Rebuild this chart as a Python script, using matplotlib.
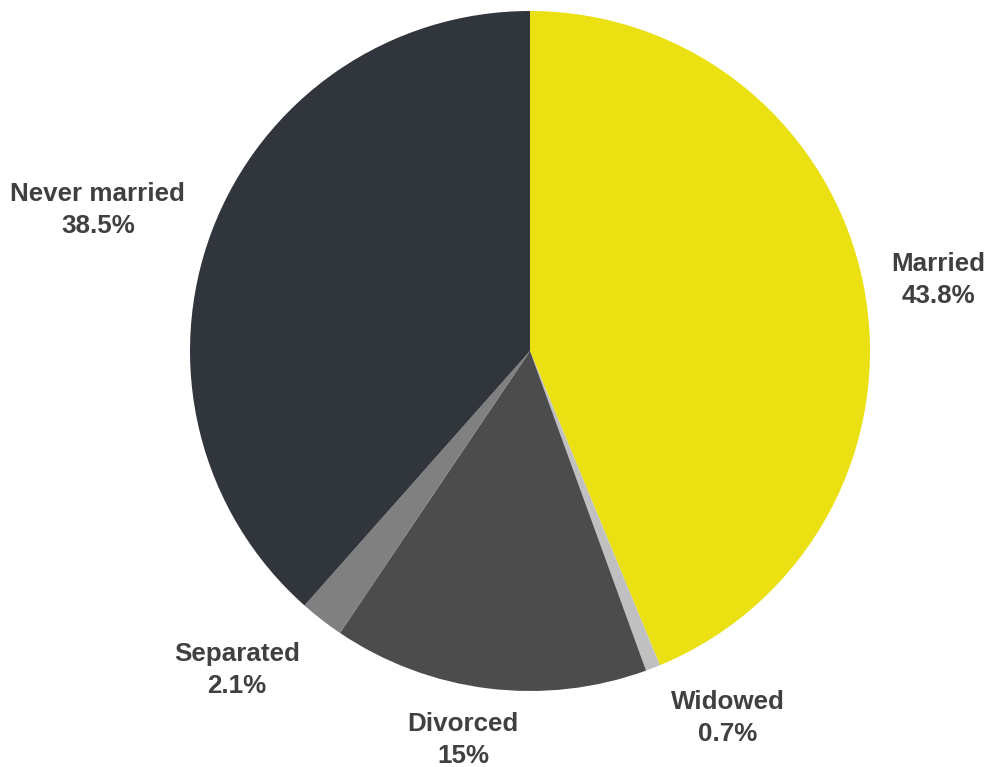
import matplotlib
matplotlib.use("Agg")
import matplotlib.pyplot as plt

categories = ["Married", "Widowed", "Divorced", "Separated", "Never married"]
values = [43.8, 0.7, 15, 2.1, 38.5]
value_labels = ["43.8%", "0.7%", "15%", "2.1%", "38.5%"]
colors = ["#EBE012", "#C0C0C0", "#4C4C4C", "#808080", "#31353C"]

# label positions (layout, in pie-radius units)
label_pos = [(1.20, 0.209), (0.582, -1.079), (-0.197, -1.144), (-0.862, -0.938), (-1.271, 0.415)]

W, H = 990, 767
cx, cy, R = 530, 351, 340

fig = plt.figure(figsize=(W / 100, H / 100), dpi=100)
ax = fig.add_axes([0, 0, 1, 1])
ax.pie(values, colors=colors, startangle=90, counterclock=False, radius=1,
       wedgeprops=dict(linewidth=0), normalize=True)
ax.set_xlim(-cx / R, (W - cx) / R)
ax.set_ylim(-(H - cy) / R, cy / R)
ax.set_aspect("equal")
ax.axis("off")

for cat, vl, (x, y) in zip(categories, value_labels, label_pos):
    ax.text(x, y, f"{cat}\n{vl}", ha="center", va="center", fontsize=18.7,
            fontweight="bold", color="#404040", family=["Liberation Sans", "DejaVu Sans"],
            linespacing=1.4)

fig.savefig("out.png", dpi=100)
